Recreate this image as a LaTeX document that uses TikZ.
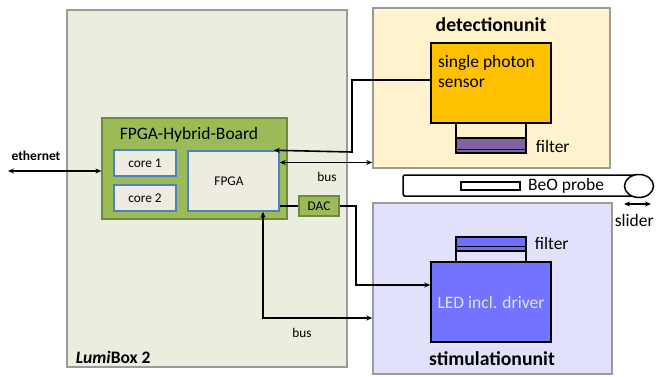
\documentclass[tikz,border=0pt]{standalone}
\usepackage{fontspec}
\setmainfont{Carlito}
\usetikzlibrary{arrows.meta,shapes.geometric}
\definecolor{lumibg}{RGB}{235,238,222}
\definecolor{unitline}{RGB}{155,155,155}
\definecolor{detbg}{RGB}{255,242,204}
\definecolor{stimbg}{RGB}{226,225,252}
\definecolor{boardgreen}{RGB}{155,187,89}
\definecolor{boardline}{RGB}{113,137,63}
\definecolor{corebg}{RGB}{238,236,225}
\definecolor{coreline}{RGB}{79,129,189}
\definecolor{sensorbg}{RGB}{255,192,0}
\definecolor{ledbg}{RGB}{115,115,255}
\definecolor{filterpurple}{RGB}{128,100,162}
\definecolor{filterblue}{RGB}{110,110,255}
\begin{document}
\begin{tikzpicture}[x=1pt,y=-1pt, >={Stealth[length=6pt,width=5pt]}, line width=1.6pt,
	unit/.style = {draw=unitline, line width=1.5pt, inner sep=0pt},
	board/.style = {draw=boardline, fill=boardgreen, line width=1.3pt, inner sep=0pt},
	core/.style = {draw=coreline, fill=corebg, line width=1.5pt, inner sep=0pt, font=\fontsize{13.3}{15}\selectfont},
	part/.style = {draw, line width=1.5pt, inner sep=0pt},
	small/.style = {font=\fontsize{13.3}{15}\selectfont},
	big/.style = {font=\fontsize{17.5}{20}\selectfont},
	head/.style = {font=\bfseries\fontsize{19.7}{22}\selectfont}]
	\useasboundingbox (0,0) rectangle (658,376);
	
	\node[unit, fill=lumibg, minimum width=280, minimum height=357] (lumibox) at (207,188.5) {};
	\node[unit, fill=detbg, minimum width=237, minimum height=160] (detunit) at (491.5,88) {};
	\node[unit, fill=stimbg, minimum width=239, minimum height=171] (stimunit) at (492.5,288.5) {};
	
	\node[board, minimum width=185, minimum height=101] (board) at (194.5,168.5) {};
	\node[big] (boardtxt) at (189,135) {FPGA-Hybrid-Board};
	\node[core, minimum width=62, minimum height=26] (core1) at (145,163) {core 1};
	\node[core, minimum width=62, minimum height=26] (core2) at (145,198) {core 2};
	\node[core, minimum width=91, minimum height=60] (fpga) at (233.5,181) {};
	\node[small] (fpgatxt) at (229,181) {FPGA};
	\node[board, small, minimum width=40, minimum height=20] (dac) at (319,206) {DAC};
	\node[anchor=west, inner sep=0pt] (lumitxt) at (75,357) {\fontsize{17.5}{20}\selectfont\textit{\bfseries Lumi}\textbf{Box 2}};
	
	\node[head] (dettxt) at (491,25) {detectionunit};
	\node[part, fill=sensorbg, minimum width=120, minimum height=80] (sensor) at (491,83) {};
	\node[big, anchor=north west, align=left, inner sep=0pt] (sensortxt) at ([xshift=7pt,yshift=-12pt]sensor.north west) {single photon\\sensor};
	\fill[filterpurple] (456,138) rectangle (526,153);
	\draw[line width=1.5pt] (456,123) -- (456,153) -- (526,153) -- (526,123);
	\draw[line width=1.5pt] (456,138) -- (526,138);
	\draw[line width=1.8pt] (456,149.5) -- (526,149.5);
	\node[big, anchor=west, inner sep=0pt] (detfilter) at (535,146) {filter};
	
	\node[head] (stimtxt) at (492,359) {stimulationunit};
	\fill[filterblue] (456,237) rectangle (526,251);
	\draw[line width=1.5pt] (456,262) -- (456,237) -- (526,237) -- (526,262);
	\draw[line width=1.2pt] (456,246.5) -- (526,246.5) (456,251) -- (526,251);
	\node[part, fill=ledbg, minimum width=120, minimum height=80] (led) at (491,302) {};
	\node[big, text=stimbg] (ledtxt) at (led) {LED incl. driver};
	\node[big, anchor=west, inner sep=0pt] (stimfilter) at (534,243) {filter};
	
	\node[draw, line width=1.5pt, rounded corners=1.5pt, minimum width=236, minimum height=21, inner sep=0pt] (probe) at (521,185.5) {};
	\node[draw, line width=1.5pt, fill=white, ellipse, minimum width=29, minimum height=23, inner sep=0pt] (roll) at (639,186) {};
	\node[draw, line width=1.3pt, fill=white, minimum width=59, minimum height=8, inner sep=0pt] (sample) at (490.5,186) {};
	\node[big] (probetxt) at (566,186) {BeO probe};
	\coordinate (sl1) at (624,204);
	\coordinate (sl2) at (651,204);
	\draw[<->] (sl1) -- (sl2);
	\node[big, anchor=west, inner sep=0pt] (slidertxt) at (614,220) {slider};
	
	\coordinate (eth) at (8,171);
	\draw[<->] (eth) -- (board.west |- eth);
	\node[small, font=\bfseries\fontsize{13.5}{15}\selectfont] (ethtxt) at (36,156) {ethernet};
	
	\draw[->] ([yshift=3pt]sensor.west) -| (352,152) -- ([xshift=-6pt]fpga.north east);
	\draw[<->] (fpga.east |- 0,162.5) -- (detunit.west |- 0,162.5);
	\node[small] (bus1) at (327,177) {bus};
	\draw (fpga.east |- dac) -- (dac.west);
	\draw[->] (dac.east) -| (356,285) -- (led.west |- 0,285);
	\draw[<->] (fpga.south -| 263,0) -- (263,318) -- (stimunit.west |- 0,318);
	\node[small] (bus2) at (302,333) {bus};
\end{tikzpicture}
\end{document}
